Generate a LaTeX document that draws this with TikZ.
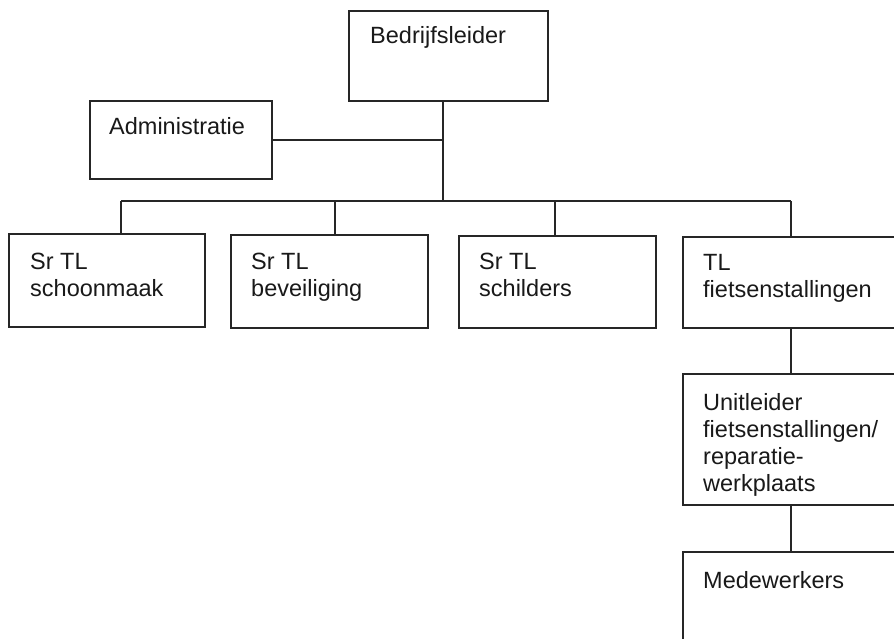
\documentclass[tikz,border=0pt]{standalone}
\usepackage{fontspec}
\setmainfont{Liberation Sans}
\usetikzlibrary{calc}
\begin{document}
\begin{tikzpicture}[x=1pt,y=1pt,
  orgbox/.style={draw=black!85,line width=1.6pt,fill=white,inner sep=0pt,anchor=north west},
  lbl/.style={anchor=north west,inner sep=0pt,align=left,text=black!90,
    font=\fontsize{23.5}{27}\selectfont},
  wire/.style={draw=black!85,line width=1.6pt}]
\path[use as bounding box,clip] (0,0) rectangle (894,-638);
\fill[white] (0,0) rectangle (894,-638);
% boxes
\node[orgbox,minimum width=199pt,minimum height=90pt] (boss) at (348,-10) {};
\node[orgbox,minimum width=182pt,minimum height=78pt] (admin) at (89,-100) {};
\node[orgbox,minimum width=196pt,minimum height=93pt] (b1) at (8,-233) {};
\node[orgbox,minimum width=197pt,minimum height=93pt] (b2) at (230,-234) {};
\node[orgbox,minimum width=197pt,minimum height=92pt] (b3) at (458,-235) {};
\node[orgbox,minimum width=240pt,minimum height=91pt] (b4) at (682,-236) {};
\node[orgbox,minimum width=240pt,minimum height=131pt] (unit) at (682,-373) {};
\node[orgbox,minimum width=240pt,minimum height=120pt] (mede) at (682,-551) {};
% texts
\node[lbl] (tboss) at ($(boss.north west)+(22,-16)$) {Bedrijfsleider};
\node[lbl] (tadmin) at ($(admin.north west)+(20,-17)$) {Administratie};
\node[lbl] (tb1) at ($(b1.north west)+(22,-20)$) {Sr TL\\schoonmaak};
\node[lbl] (tb2) at ($(b2.north west)+(21,-19)$) {Sr TL\\beveiliging};
\node[lbl] (tb3) at ($(b3.north west)+(21,-18)$) {Sr TL\\schilders};
\node[lbl] (tb4) at ($(b4.north west)+(21,-18)$) {TL\\fietsenstallingen};
\node[lbl] (tunit) at ($(unit.north west)+(21,-20)$) {Unitleider\\fietsenstallingen/\\reparatie-\\werkplaats};
\node[lbl] (tmede) at ($(mede.north west)+(21,-20)$) {Medewerkers};
% junctions
\coordinate (j) at (443,-201);
\coordinate (t1) at (121,-201);
\coordinate (t2) at (335,-201);
\coordinate (t3) at (555,-201);
\coordinate (t4) at (791,-201);
% connectors
\draw[wire] (boss.south -| j) -- (j);
\draw[wire] (admin.east) -- (admin.east -| j);
\draw[wire] (t1) -- (t4);
\draw[wire] (t1) -- (t1 |- b1.north);
\draw[wire] (t2) -- (t2 |- b2.north);
\draw[wire] (t3) -- (t3 |- b3.north);
\draw[wire] (t4) -- (t4 |- b4.north);
\draw[wire] (b4.south -| t4) -- (unit.north -| t4);
\draw[wire] (unit.south -| t4) -- (mede.north -| t4);
\end{tikzpicture}
\end{document}
